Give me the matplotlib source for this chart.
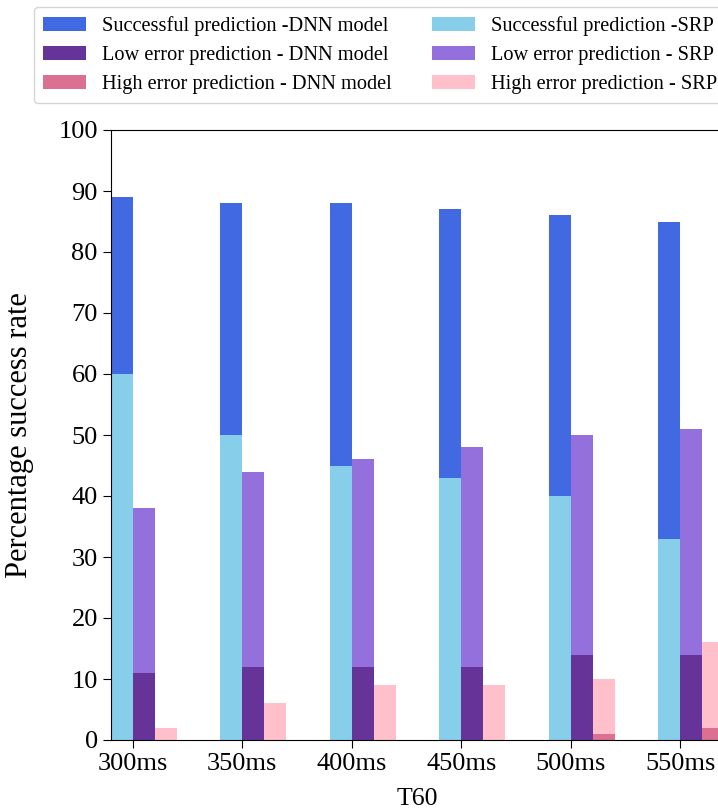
import numpy as np
import matplotlib
matplotlib.use('Agg')
import matplotlib.pyplot as plt

plt.rcParams['font.family'] = ['Liberation Serif', 'DejaVu Serif']

#%% data
t60 = ['300ms', '350ms', '400ms', '450ms', '500ms', '550ms']
dnn_success = [89, 88, 88, 87, 86, 85]
srp_success = [60, 50, 45, 43, 40, 33]
dnn_low = [11, 12, 12, 12, 14, 14]
srp_low = [38, 44, 46, 48, 50, 51]
dnn_high = [0, 0, 0, 0, 1, 2]
srp_high = [2, 6, 9, 9, 10, 16]

#%% plot
fig = plt.figure(figsize=(7.18, 8.11), dpi=100)
# axes runs a bit past the right edge like the original crop
ax = fig.add_axes([111/718, 71/811, 613/718, 610/811])

x = np.arange(len(t60))
w = 0.2

b1 = ax.bar(x - w/2, dnn_success, w, color='royalblue', label='Successful prediction -DNN model')
b2 = ax.bar(x - w/2, srp_success, w, color='skyblue', label='Successful prediction -SRP')
b4 = ax.bar(x + w/2, srp_low, w, color='mediumpurple', label='Low error prediction - SRP')
b3 = ax.bar(x + w/2, dnn_low, w, color='rebeccapurple', label='Low error prediction - DNN model')
b6 = ax.bar(x + 3*w/2, srp_high, w, color='pink', label='High error prediction - SRP')
b5 = ax.bar(x + 3*w/2, dnn_high, w, color='palevioletred', label='High error prediction - DNN model')

ax.set_xlim(-0.2, 5.4)
ax.set_ylim(0, 100)
ax.set_yticks(np.arange(0, 101, 10))
ax.set_xticks(x)
ax.set_xticklabels(t60)
ax.tick_params(labelsize=19, length=6)
ax.set_ylabel('Percentage success rate', fontsize=22)
ax.yaxis.set_label_coords(-0.125, 0.5)
ax.set_xlabel('T60', fontsize=18.5, labelpad=9)

fig.legend([b1, b3, b5, b2, b4, b6],
           [b1.get_label(), b3.get_label(), b5.get_label(),
            b2.get_label(), b4.get_label(), b6.get_label()],
           ncol=2, loc='upper left', bbox_to_anchor=(34/718, 1 - 7/811),
           borderaxespad=0, fontsize=14.7, handlelength=2.1,
           columnspacing=1.95, borderpad=0.45, labelspacing=0.48)

plt.savefig('out.png', dpi=100)
